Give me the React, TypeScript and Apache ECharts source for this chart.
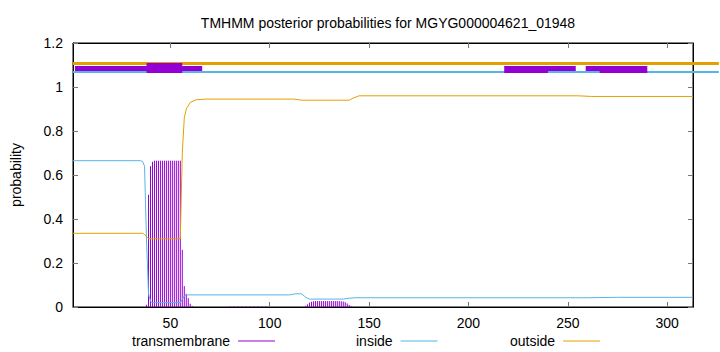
import React, { useEffect, useRef } from "react";
import * as echarts from "echarts";

const TITLE = "TMHMM posterior probabilities for MGYG000004621_01948";
const SEQ_START = 1;
const SEQ_END = 313;
const X_TICKS = [50, 100, 150, 200, 250, 300];

// transmembrane posterior (impulses): [residue, probability]
const transmembrane: number[][] = [
  [38, 0.01], [39, 0.51], [40, 0.64], [41, 0.66], [42, 0.665], [43, 0.665], [44, 0.665],
  [45, 0.665], [46, 0.665], [47, 0.665], [48, 0.665], [49, 0.665], [50, 0.665],
  [51, 0.665], [52, 0.665], [53, 0.665], [54, 0.665], [55, 0.665], [56, 0.26],
  [57, 0.095], [58, 0.06], [59, 0.04], [60, 0.015], [61, 0.005],
  [80, 0.003], [82, 0.003], [84, 0.003], [86, 0.003], [88, 0.003], [90, 0.003],
  [92, 0.003], [94, 0.003], [96, 0.003], [98, 0.003],
  [118, 0.005], [119, 0.012], [120, 0.02], [121, 0.024], [122, 0.026], [123, 0.027],
  [124, 0.027], [125, 0.027], [126, 0.027], [127, 0.027], [128, 0.027], [129, 0.027],
  [130, 0.027], [131, 0.027], [132, 0.027], [133, 0.027], [134, 0.027], [135, 0.027],
  [136, 0.026], [137, 0.025], [138, 0.022], [139, 0.016], [140, 0.009], [141, 0.004],
];

// inside posterior: [residue, probability]
const inside: number[][] = [
  [1, 0.665], [35, 0.665], [36, 0.662], [37, 0.64], [38, 0.3], [39, 0.06], [40, 0.025],
  [41, 0.02], [55, 0.02], [56, 0.035], [57, 0.05], [58, 0.055], [110, 0.055],
  [113, 0.06], [116, 0.06], [118, 0.045], [120, 0.036], [137, 0.036], [140, 0.04],
  [143, 0.042], [260, 0.042], [275, 0.044], [313, 0.044],
];

// outside posterior: [residue, probability]
const outside: number[][] = [
  [1, 0.335], [36, 0.335], [37, 0.33], [38, 0.32], [39, 0.31], [55, 0.31], [56, 0.7],
  [57, 0.86], [58, 0.9], [60, 0.93], [63, 0.942], [68, 0.945], [112, 0.945],
  [116, 0.94], [140, 0.94], [142, 0.95], [145, 0.96], [255, 0.96], [262, 0.957],
  [313, 0.957],
];

// predicted topology bars: [start, end, upper, lower]
const topOutside: number[][] = [[1, 326, 1.114, 1.1]];
const topInside: number[][] = [[1, 326, 1.073, 1.064]];
const topTM: number[][] = [
  [2, 66, 1.0955, 1.0727],
  [38, 56, 1.109, 1.0636],
  [218, 254, 1.0955, 1.0636],
  [259, 290, 1.0955, 1.0636],
];
const topInsideOver: number[][] = [[240, 266, 1.073, 1.064]];

const PURPLE = "#9400D3";
const BLUE = "#56B4E9";
const ORANGE = "#E69F00";
const FONT = "'Liberation Sans', Arial, sans-serif";

function rectSeries(name: string, data: number[][], color: string, z: number) {
  return {
    type: "custom",
    name,
    data,
    z,
    clip: false,
    silent: true,
    encode: { x: [0, 1], y: [2, 3] },
    renderItem: (params: any, api: any) => {
      const p1 = api.coord([api.value(0), api.value(2)]);
      const p2 = api.coord([api.value(1), api.value(3)]);
      return {
        type: "rect",
        shape: { x: p1[0], y: p1[1], width: p2[0] - p1[0], height: p2[1] - p1[1] },
        style: { fill: color },
      };
    },
  };
}

function legendItem(name: string, color: string, left: number) {
  return {
    data: [{ name, itemStyle: { color } }],
    left,
    top: 334,
    padding: 0,
    align: "right",
    icon: "rect",
    itemWidth: 37,
    itemHeight: 1,
    textStyle: { fontSize: 14, color: "#000", fontFamily: FONT, padding: [0, 3, 0, 0] },
    selectedMode: false,
  };
}

export default function App() {
  const ref = useRef<HTMLDivElement>(null);
  useEffect(() => {
    if (!ref.current) return;
    const chart = echarts.init(ref.current, null, { renderer: "svg" });
    const xCommon = {
      type: "value",
      min: SEQ_START,
      max: SEQ_END,
      splitLine: { show: false },
      axisLine: { show: true, onZero: false, lineStyle: { color: "#000", width: 1 } },
      axisTick: { show: true, inside: true, length: 5, lineStyle: { color: "#777" }, customValues: X_TICKS },
    };
    const yCommon = {
      type: "value",
      min: 0,
      max: 1.2,
      interval: 0.2,
      splitLine: { show: false },
      axisLine: { show: true, onZero: false, lineStyle: { color: "#000", width: 1 } },
      axisTick: { show: true, inside: true, length: 5, lineStyle: { color: "#777" } },
    };
    chart.setOption({
      animation: false,
      textStyle: { fontFamily: FONT },
      title: {
        text: TITLE,
        left: 383,
        top: 11,
        textAlign: "center",
        textStyle: { fontSize: 14, fontWeight: "normal", color: "#000", fontFamily: FONT },
      },
      grid: { left: 73, right: 27, top: 43, bottom: 45, show: true, borderColor: "#000", borderWidth: 1, backgroundColor: "transparent" },
      xAxis: [
        {
          ...xCommon,
          position: "bottom",
          axisLabel: { color: "#000", fontSize: 14, margin: 9, fontFamily: FONT, customValues: X_TICKS },
        },
        { ...xCommon, position: "top", axisLabel: { show: false } },
      ],
      yAxis: [
        {
          ...yCommon,
          position: "left",
          name: "probability",
          nameLocation: "middle",
          nameGap: 50,
          nameRotate: 90,
          nameTextStyle: { color: "#000", fontSize: 14, fontFamily: FONT },
          axisLabel: { color: "#000", fontSize: 14, margin: 10, fontFamily: FONT },
        },
        { ...yCommon, position: "right", axisLabel: { show: false } },
      ],
      legend: [
        legendItem("transmembrane", PURPLE, 132),
        legendItem("inside", BLUE, 356),
        legendItem("outside", ORANGE, 510),
      ],
      series: [
        {
          type: "custom",
          name: "transmembrane",
          data: transmembrane,
          itemStyle: { color: PURPLE },
          encode: { x: 0, y: 1 },
          z: 2,
          renderItem: (params: any, api: any) => {
            const p0 = api.coord([api.value(0), 0]);
            const p1 = api.coord([api.value(0), api.value(1)]);
            return {
              type: "line",
              shape: { x1: p0[0], y1: p0[1], x2: p1[0], y2: p1[1] },
              style: { stroke: PURPLE, lineWidth: 1 },
            };
          },
        },
        {
          type: "line",
          name: "inside",
          data: inside,
          showSymbol: false,
          symbol: "none",
          itemStyle: { color: BLUE },
          lineStyle: { color: BLUE, width: 1 },
          z: 3,
        },
        {
          type: "line",
          name: "outside",
          data: outside,
          showSymbol: false,
          symbol: "none",
          itemStyle: { color: ORANGE },
          lineStyle: { color: ORANGE, width: 1 },
          z: 4,
        },
        rectSeries("topOutside", topOutside, ORANGE, 5),
        rectSeries("topInside", topInside, BLUE, 5),
        rectSeries("topTM", topTM, PURPLE, 6),
        rectSeries("topInsideOver", topInsideOver, BLUE, 7),
      ],
    });
    return () => chart.dispose();
  }, []);
  return (
    <div
      ref={ref}
      style={{ position: "fixed", left: 0, top: 0, width: 720, height: 352, background: "#fff" }}
    />
  );
}
